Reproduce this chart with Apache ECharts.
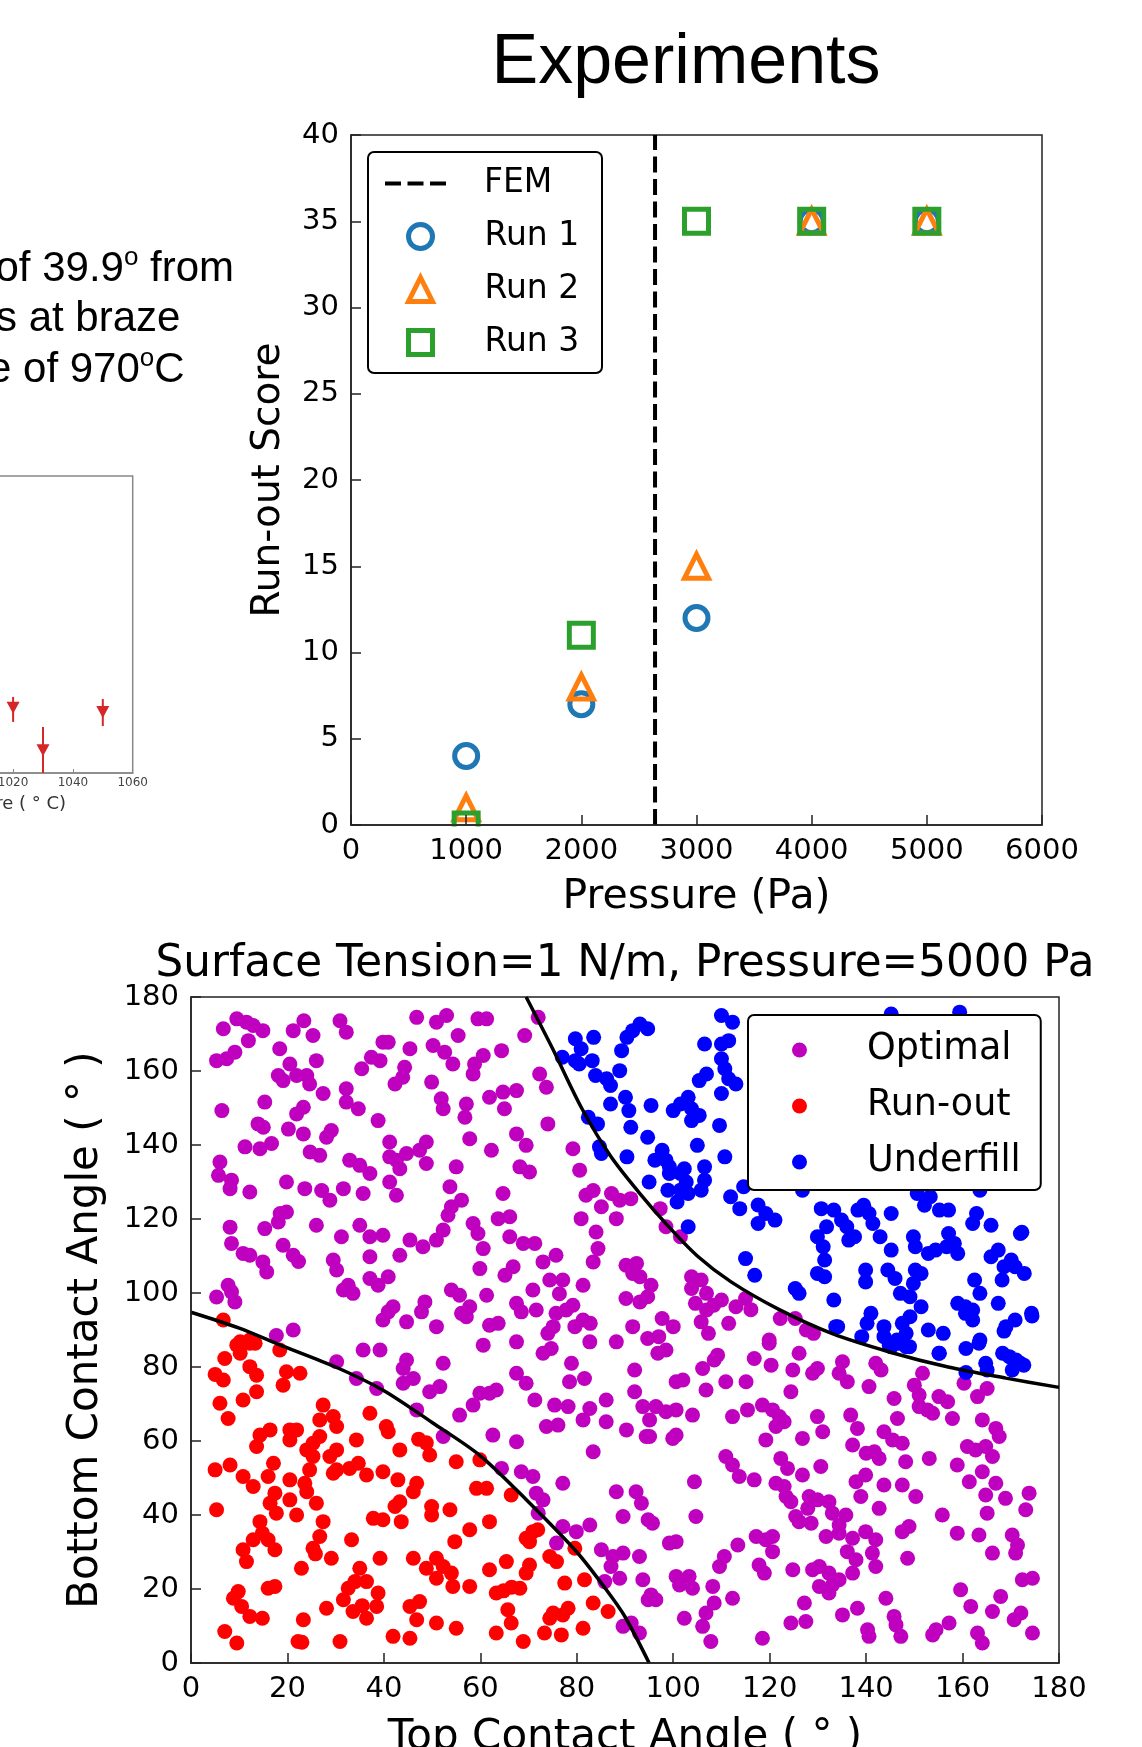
<!DOCTYPE html>
<html>
<head>
<meta charset="utf-8">
<script src="https://cdn.jsdelivr.net/npm/echarts@6/dist/echarts.min.js"></script>
<style>
html, body { margin: 0; padding: 0; background: #fff; }
#main { width: 1142px; height: 1747px; }
</style>
</head>
<body>
<div id="main"></div>
<script>
// experiments panel
var pressure = [1000, 2000, 3000, 4000, 5000];
var run1 = [4, 7, 12, 35, 35];
var run2 = [1, 8, 15, 35, 35];
var run3 = [0, 11, 35, 35, 35];
var femPressure = 2640;
var pressureTicks = [0, 6000, 1000];
var scoreTicks = [0, 40, 5];

// cropped temperature plot (left edge)
var tempX = [1020, 1030, 1050];
var tempY = [22, 7.7, 20.5];
var tempLo = [17.2, 0, 15.8];
var tempHi = [25.6, 15.5, 24.9];

// simulation panel: [top angle, bottom angle]
var runout = [[5,78],[7,82.3],[6.7,76.5],[9.5,85.9],[10.2,83.7],[12.2,86.4],[13.3,86.4],[12.2,80.1],[13.6,77.8],[13.6,73.3],[10.8,71.1],[6,70.2],[7.7,66.1],[18.4,84.6],[19.8,78.7],[19.1,75.1],[22.6,78.3],[6.7,92.7],[10.2,86.8],[12.2,87.3],
[27.4,69.7],[26.7,65.7],[29.5,66.6],[30.2,63.9],[37.1,67.5],[40.5,63.9],[40.9,62.5],[34.3,60.3],[26.7,61.2],[25.3,59.4],[24,57.6],[20.5,63],[21.9,63],[20.5,60.3],[14.3,61.6],[13.6,58.5],[16.4,63],[17.1,54],[16,50.4],[10.8,50.4],[12.9,47.7],[8.1,53.5],[5,52.2],[5.3,41.4],
[17.4,45.9],[16.4,43.2],[17.7,40.5],[20.5,44.1],[21.9,40],[20.5,49.5],[23.6,48.6],[24,46.3],[24.6,52.2],[25.3,55.8],[28.8,55.8],[30.2,57.6],[30.2,52.2],[29.5,51.3],[32.9,52.6],[34.7,54],[36.4,50.8],[39.8,51.7],[42.9,49.5],[47.2,60.5],[48.8,59.5],
[49.5,56.2],[43.3,57.6],[55,54.4],[59.9,54.9],[59.2,47.2],[61.3,47.2],[46.8,48.6],[46.1,46.3],[43.3,43.6],[42.3,42.3],[43.6,38.2],[37.8,39.1],[39.8,38.7],[26,43.2],[27.4,38.2],[26.7,34.2],[25.3,31],[25.8,29.5],[14.3,38.2],[14.8,35.1],[16,33.3],[17.4,30.6],[12.9,33.3],[10.8,30.6],[11.5,27.4],
[22.9,25.6],[29.1,28.3],[33.3,33.3],[39.2,28.3],[35,25.6],[49.9,42.3],[49.9,40],[53.7,41.4],[57.8,36],[54.7,32.8],[61.9,38.2],[66.4,45.4],[69.5,33.7],[70.9,35.5],[71.9,36],[70.2,32.8],[79.6,31],[74.4,28.8],[75.8,27.4],[70.2,26.5],[69.5,24.3],[68.2,20.2],[65.4,27.4],[61.9,25.2],
[77.5,21.6],[81.6,22.5],[83.4,16.2],[86.5,13.9],[81.3,9.4],[78.2,14.8],[77.1,13],[75.1,13.5],[74.4,12.1],[76.8,7.6],[73.3,8.1],[68.9,5.8],[66.4,10.8],[65.7,14.4],[63.3,18.9],[64.8,19.5],[66.5,20.5],[63.3,8.1],[57.8,20.7],[54.3,20.7],[54,24.3],[50.9,22.9],[52.3,26.1],[50.9,28.3],[48.8,25.6],[46.1,28.3],
[55,9.4],[50.9,10.8],[46.8,11.7],[45.4,15.3],[47.4,16.6],[45.4,6.7],[41.9,7.2],[36.4,12.1],[38.5,15.3],[38.8,18.9],[36.4,22],[34,22],[32.6,20.2],[31.6,17.1],[33.6,13.9],[35.5,15.5],[28.1,14.8],[30.9,5.8],[23.3,11.7],[22.2,5.8],[23,5.6],[16,20.2],[17.4,20.7],[9.8,19.3],[8.8,17.5],[10.5,15.3],[12.2,12.6],[14.8,12.1],[7,8.5],[9.5,5.4]];

var underfill = [[77,163.7],[79.7,168.7],[83.5,169.1],[80.9,166],[83.2,162.8],[79.7,162.8],[80.5,161.9],[83.9,158.8],[86.2,157.9],[87,156.1],[88.9,160.1],[89.3,165.5],[90.4,169.1],[93.1,172.7],[94.7,171.4],[91.6,170.9],
[82.4,147.5],[84.3,145.7],[84.7,139.5],[85.1,137.7],[87,151.1],[90.1,152.9],[90.8,149.3],[91.2,144.8],[90.4,136.8],[94.7,142.1],[95.4,150.7],[96.2,135.9],[97.7,138.6],[98.5,135.9],[99.2,132.3],[100,149.3],[101.5,151.1],[103.1,152.9],[103.8,149.8],[103.8,146.6],[105.4,148],[105,139.9],[106.5,130.5],[105.8,127.8],
[103.1,126.9],[100.8,124.6],[101.5,127.8],[98.9,127.8],[95,130],[99.2,134.1],[101.5,132.3],[102.7,130],[102.3,133.6],[103.1,117.9],[105.4,157.4],[106.9,159.2],[106.5,167.3],[110,167.3],[111.5,168.2],[110,175],[112.3,173.2],[110,163.3],[110.7,160.6],[111.5,157.9],[113,156.5],[110,153.9],[109.6,145.3],[110.7,136.8],
[106.5,134.1],[111.9,126],[113.8,122.8],[114.6,128.7],[117.6,123.8],[119.2,121.5],[117.6,118.8],[121.1,119.7],[115,109.3],[116.9,104.8],[125.3,101.2],[126.1,99.9],[129.9,115.2],[131.8,117.9],[133.3,122.4],[130.7,122.8],[134.9,119.7],[131.1,112.5],[131.4,108.9],[129.9,105.3],[131.4,104.4],[133.3,98.1],[134.1,90.9],
[138.3,122.4],[139.5,123.7],[140.6,121.5],[136,117.9],[136.4,114.3],[137.6,115.2],[139.9,106.2],[139.9,103],[141.4,118.8],[145.2,121.5],[142.9,115.2],[145.2,111.6],[144.5,106.2],[146,103.9],[147.1,99.9],[149.1,99],[151.4,96.3],[149.1,93.6],[147.5,91.8],[146.4,87.3],[148.3,89.1],[143.7,88.2],[139.1,88.2],[140.2,91.8],[141,94.5],[143.7,90.9],[145.2,85.5],[148.3,85.5],[133.7,90.9],
[149.8,115.2],[150.2,112.5],[152.1,123.7],[153.3,126],[155.2,122.4],[157.1,122.4],[157.1,116.1],[152.9,110.7],[154.4,111.6],[156.7,112.5],[158.3,113.4],[159,110.7],[151.4,105.3],[150.2,106.2],[149.8,102.6],[155.2,83.7],[152.9,90],[156,89.1],[159,97.2],[160.6,96.3],[163.6,99.9],[162.5,103.5],[162.1,95.4],[160.6,94.5],[162.1,92.7],[163.6,87.3],
[169,90.9],[170.9,92.7],[169.7,82.8],[172,81],[165.9,109.8],[167.4,111.6],[168.2,103.5],[168.6,107.1],[170.1,108.9],[172.8,105.3],[172,116.1],[167.4,97.2],[174.3,94.5],[165.1,79.2],[162.1,118.8],[165.9,118.3],[162.9,121.5],[145.2,175.4],[159.4,175.9],[126.8,127.8],[150.6,126.9],[163.6,127.8],
[144.8,85.9],[146.8,86.4],[149,85.5],[155.1,83.7],[160.7,85],[160.7,78.5],[163.4,86.4],[164.8,81],[168.3,83.7],[170.3,79.2],[172.7,80.5],[174.4,93.8],[172.3,116.4],[170.9,107.1],[168.6,89.7],[171.1,81.9]];

var optimal = [[6.7,171.4],[5.3,162.8],[7.4,163.3],[9.1,165.1],[9.5,174.1],[11.5,173.2],[12.9,172.3],[14.9,170.9],[11.9,168.2],[6.4,149.3],[6,135.4],[5.7,131.8],[8.4,130.5],[8.1,128.2],[12.2,127.3],[11.2,139.5],[13.9,145.7],[15,144.8],[15.3,151.6],[14.3,139],[16.7,140.4],
[18.4,166],[18.1,158.8],[19.1,157.4],[20.5,161.9],[21.2,170.9],[23.4,173.6],[25.3,169.6],[26,162.8],[21.9,158.8],[24,158.8],[24.6,156.5],[27.4,153.9],[20.2,144.3],[23.3,143],[21.9,148.4],[23.3,150.2],[24.7,138.1],[26.7,137.2],[28.1,142.1],[29.1,143.9],
[30.9,173.6],[32.2,170.5],[32.2,155.2],[32.2,151.6],[34.7,149.8],[32.9,135.9],[35,134.5],[37.1,132.3],[35.7,126.9],[31.6,128.2],[27.1,127.7],[28.8,125.1],[23.6,128.2],[19.8,130],[35.4,160.6],[37.4,163.7],[39.2,162.8],[39.8,167.8],[40.9,167.8],[45.4,166],[44.3,161],[43.9,158.3],[42.3,156.5],
[38.8,146.6],[41.2,140.8],[41.2,136.8],[42.6,135.9],[44.7,137.7],[43.3,133.6],[41.2,130],[42.6,126.4],[46.8,174.5],[50.9,173.2],[53,175],[55.4,169.6],[50.2,166.9],[52.6,165.1],[54.3,161.9],[49.9,157],[48.8,140.8],[48.8,135],[47.4,138.6],[51.9,152.5],[52.3,149.8],[57.1,151.1],[56.8,147.5],[57.8,141.7],
[55,134.1],[53.7,128.7],[56.1,125.1],[59.5,174.1],[61.3,174.1],[60.6,164.2],[58.8,161.9],[58.5,159.2],[61.9,152.9],[64.7,154.3],[67.5,154.7],[65,149.8],[64.4,165.5],[69.2,169.6],[72,174.5],[72.3,159.2],[73.7,155.6],[74,145.7],[67.5,143],[69.5,139.9],[62.3,138.6],[68.2,134.1],[70.2,132.7],[64.7,126.9],[63.7,120.1],[66.1,120.6],
[79.2,139],[80.6,133.2],[81.9,126.4],[83.4,127.7],[85.1,123.3],[87.2,126.9],[88.9,125.1],[88.2,120.1],[80.9,120.1],[84,116.5],[84.4,112],[83.4,108.4],[90.2,107.5],[90.2,98.5],[77.1,103.5],[81.3,102.1],[79.2,96.7],[77.8,95.4],[76.4,99.8],[75.7,94.5],[81.3,92.7],[82.8,91.8],[79.6,90.9],[75.1,90.9],[74,89.1],
[74.4,103.5],[75.7,110.2],[73,108.4],[71.3,113.4],[68.9,113.4],[66.1,115.2],[67.5,97.2],[68.5,94.9],[71.6,95.4],[70.9,100.8],[66.8,107.1],[65.1,104.8],[63.7,91.8],[61.9,91.3],[61.3,99.4],[59.9,106.6],[59.5,116.1],[58.5,118.8],[60.6,112],[57.1,93.6],[57.8,96.3],[56.1,94.5],[55.7,99.4],[54,100.8],
[50.9,90.9],[48.5,97.6],[47.8,94.9],[44.7,92.2],[40.9,104.4],[41.9,96.3],[40.9,94.9],[39.8,92.7],[37.1,103.9],[38.8,102.1],[37.1,109.8],[32.6,102.1],[33.6,99.9],[29.5,108.9],[30.2,106.2],[31.6,100.8],[26,118.3],[31.2,115.2],[35,118.3],[37.1,115.2],[39.8,115.6],[43.3,110.2],[45.4,114.3],[48.1,112.5],
[50.9,114.3],[52.3,117],[53.3,121],[54,123.3],[19.1,112.9],[21.2,110.2],[22.3,108.5],[15.3,117.4],[18.5,121.5],[19.8,121.9],[18.1,119.2],[8.1,117.8],[8.4,113.4],[10.8,110.7],[12.2,110.2],[14.9,108.4],[15.7,105.7],[7.7,102.1],[8.4,100.3],[5.3,98.9],[9.1,97.6],[17.7,88.5],[21.2,90],
[91.2,125.5],[97.3,122.8],[98.5,117.9],[101.5,115.2],[92.4,108],[91.6,105.3],[93.1,104.4],[95.4,102.1],[94.7,99],[93.1,97.6],[91.6,90.9],[97.7,93.1],[100,90.9],[97,88.2],[94.7,87.7],[103.8,104.4],[105.8,103.5],[103.8,101.2],[104.6,97.2],[106.9,95.4],[105.8,92.2],[107.3,89.1],[106.9,99.9],[108.4,96.7],
[110,98.1],[111.5,91.8],[113,96.3],[115,98.5],[116.1,95.5],[119.9,87.3],[122.2,93.1],[125.3,93.1],[127.6,90],[129.1,89.1],
[30.2,81.4],[34.3,76.9],[35.7,84.6],[39.2,84.6],[38.5,74.2],[44.7,81.9],[44,79.6],[46.1,76.9],[44,75.6],[46.8,68.4],[49.5,73.3],[51.6,74.7],[52.3,81],[52.3,61.2],[55.7,67],[58.5,69.7],[59.9,72.9],[61.9,72.9],[63.3,73.8],[62.6,61.6],[67.5,59.8],[60.6,85.9],[67.5,86.8],[67.5,78.3],[69.5,75.6],[71.3,71.1],
[73,83.7],[74.7,85],[73.7,63.9],[76.1,64.3],[75.4,69.7],[78.2,69.3],[78.9,81],[78.5,76],[81.6,76.9],[81.3,65.7],[82.7,68.8],[86.1,71.1],[86.1,65.2],[83.4,57.1],[82.7,86.8],[88.2,86.8],[92,79.2],[92,73.3],[90.3,63],[93.7,69.3],[94.4,61.2],[64.4,52.6],[68.5,51.7],[70.9,50.4],[71.6,45.9],[73,44.1],[72,40.5],
[77.1,48.6],[88.2,46.3],[92.3,46.3],[93.4,43.2],[89.6,39.6],[94.8,38.7],[77.1,36.9],[79.9,35.5],[82.7,37.3],[75.8,32.4],[85.1,30.6],[87.5,28.8],[89.6,29.7],[87.1,26.1],[88.9,22.9],[85.8,22],[93,28.8],[93.7,22.5],[89.6,9.9],[91.3,10.8],[93,8.1],[94.8,17.1],
[95.1,65.7],[95.1,61.2],[98.5,67.9],[96.4,69.3],[100.6,68.4],[104,67],[99.9,60.7],[100.6,61.6],[96.8,83.7],[98.5,84.6],[102,76.5],[106.1,79.6],[106.8,73.8],[109.2,83.2],[108.5,81.9],[110.9,76],[112.3,66.6],[115.1,76],[116.8,82.3],[119.9,86.4],[120.3,80.5],[124.8,79.2],[126.1,83.7],[128.9,78.3],[129.9,79.6],
[124.4,73.3],[115.4,68.4],[118.5,69.7],[120.6,68.4],[122,66.6],[123,65.2],[121.3,63.9],[119.2,60.3],[126.8,60.7],[129.9,66.6],[131,62.5],[135.1,81.4],[134.4,78.3],[136.1,76],[140.6,74.7],[142,81],[143.1,79.2],[136.8,67],[138.2,63.4],[137.2,58.9],[140,56.7],[141.7,57.1],[142.7,55.3],[143.7,62.5],
[145.5,60.3],[147.5,59.4],[145.8,71.5],[146.5,66.1],[148.2,54.4],[150,75.1],[151,72.4],[151,69.3],[152.7,68.4],[153.8,67.5],[155.1,72],[156.9,70.6],[157.9,66.1],[153.1,55.3],[151.7,78.3],[160.3,75.6],[163.1,72],[165.1,74.2],[164.1,65.7],[166.9,63.4],[167.6,61.2],[161,58.5],[162.7,57.6],[164.8,58.5],
[166.2,55.8],[158.9,53.5],[161.4,49],[164.1,51.7],[166.9,48.6],[164.8,45.4],[168.9,44.5],[165.1,40.5],[173.8,45.9],[173.1,41.4],[163.4,34.6],[170.3,34.6],[171.4,31.9],[171,29.7],[166.2,29.7],[155.8,40],[158.9,35.1],[147.5,35.5],[148.9,36.9],[148.6,28.3],[143.7,48.1],[147.5,48.1],[150.3,45],
[142.7,41.8],[138.9,45],[137.9,49],[139.9,50.8],[135.8,40],[139.9,35.5],[142,33.3],[141.3,29.7],[142,26.1],[137.9,27.9],[137.2,24.3],[136.1,30.1],[134.4,37.3],[133,40.5],[132.3,43.6],[129.9,44.1],[128.2,45],[127.9,41.8],[126.1,38.2],[125.4,39.6],[123.4,45],[123,47.7],[121.3,48.6],[122.3,55.3],
[123.7,52.6],[126.8,50.8],[130.6,53.1],[128.6,37.8],[131.7,34.2],[134.4,35.1],[137.2,33.7],[130.3,26.1],[128.9,25.2],[132.3,24.3],[133,21.1],[132.3,18.9],[134.4,22.5],[130.3,20.7],[127.2,16.2],[124.4,10.8],[127.5,11.2],[135.1,13],[138.2,14.8],[140.3,9],[140.6,7.2],[144.1,17.5],[145.8,12.6],
[147.2,7.2],[146.2,10.3],[153.8,7.6],[154.5,9],[157.2,10.8],[163.1,8.1],[164.1,5.4],[159.6,19.8],[161.7,15.3],[166.2,13.9],[167.9,18],[170.7,11.7],[172.1,13.5],[174.5,8.1],[172.4,22.5],[174.5,22.9],[124.8,25.2],[118.5,6.7],[120.6,30.1],[119.2,33.3],[117.2,34.2],[117.8,26.5],[118.9,24.3],
[113.4,31.9],[110.6,28.8],[109.6,26.1],[108.2,20.7],[108.5,16.2],[106.8,13.5],[106.1,9.9],[107.8,5.8],[112.3,17.5],[104,20.2],[103.3,23.4],[100.6,23.4],[101.3,21.1],[102.3,12.1],[99.2,32.4],[100.6,32.8],[104.7,39.6],[104.4,49],[95.7,37.8],[96.4,17.1],[95.4,18.4],[110.9,55.8],[112.3,53.5],
[113.7,50.4],[116.8,49.5],[124.4,43.6],[120.6,34.2],[100.6,76]];

// decision boundaries
var upperBoundary = [[69.5,180],[75,166],[81,150],[87,137],[93,127],[99,118],[105,110],[112,103],[122,95.5],[133,89],[145,84],[157,80],[169,77],[180,74.5]];
var lowerBoundary = [[0,94.8],[10,90.5],[18,86.2],[30,80],[40,73.6],[50,65],[60,56],[70,43.5],[80,30],[86,20],[90,12.5],[95,0]];
var angleTicks = [0, 180, 20];

var dv = 'DejaVu Sans';
var lib = 'Liberation Sans';

function pairs(xs, ys) {
	return xs.map(function(x, i) { return [x, ys[i]]; });
}
function plain(v) { return String(v); }

var chart = echarts.init(document.getElementById('main'));

var supRich = {
	a: { fontFamily: lib, fontSize: 42, lineHeight: 48, fill: '#000', color: '#000' },
	b: { fontFamily: lib, fontSize: 26, lineHeight: 31, verticalAlign: 'top', fill: '#000', color: '#000' }
};

var option = {
	animation: false,
	backgroundColor: '#fff',
	grid: [
		{ left: 351, top: 135, width: 691, height: 690, show: true, borderColor: '#222', borderWidth: 1.5, outerBoundsMode: 'none', containLabel: false },
		{ left: 191, top: 997, width: 868, height: 666, show: true, borderColor: '#222', borderWidth: 1.5, outerBoundsMode: 'none', containLabel: false },
		{ left: -46.7, top: 476, width: 179.4, height: 297, show: true, borderColor: '#888', borderWidth: 1.5, outerBoundsMode: 'none', containLabel: false }
	],
	xAxis: [
		{
			gridIndex: 0, type: 'value', min: pressureTicks[0], max: pressureTicks[1], interval: pressureTicks[2], z: 20,
			axisLine: { lineStyle: { color: '#222', width: 1.5 } },
			axisTick: { inside: true, length: 10, lineStyle: { color: '#222', width: 1.5 } },
			axisLabel: { margin: 12, fontFamily: dv, fontSize: 29, color: '#000', formatter: plain },
			splitLine: { show: false },
			name: 'Pressure (Pa)', nameLocation: 'middle', nameGap: 52,
			nameTextStyle: { fontFamily: dv, fontSize: 41, color: '#000' }
		},
		{
			gridIndex: 1, type: 'value', min: angleTicks[0], max: angleTicks[1], interval: angleTicks[2], z: 20,
			axisLine: { lineStyle: { color: '#222', width: 1.5 } },
			axisTick: { inside: true, length: 10, lineStyle: { color: '#222', width: 1.5 } },
			axisLabel: { margin: 12, fontFamily: dv, fontSize: 29, color: '#000', formatter: plain },
			splitLine: { show: false },
			name: 'Top Contact Angle ( ° )', nameLocation: 'middle', nameGap: 54,
			nameTextStyle: { fontFamily: dv, fontSize: 42, color: '#000' }
		},
		{
			gridIndex: 2, type: 'value', min: 1000, max: 1060, interval: 20,
			axisLine: { lineStyle: { color: '#888', width: 1.5 } },
			axisTick: { inside: true, length: 4, lineStyle: { color: '#888', width: 1 } },
			axisLabel: { margin: 4, fontFamily: dv, fontSize: 12, color: '#444', formatter: plain },
			splitLine: { show: false }
		}
	],
	yAxis: [
		{
			gridIndex: 0, type: 'value', min: scoreTicks[0], max: scoreTicks[1], interval: scoreTicks[2], z: 20,
			axisLine: { show: true, lineStyle: { color: '#222', width: 1.5 } },
			axisTick: { show: true, inside: true, length: 10, lineStyle: { color: '#222', width: 1.5 } },
			axisLabel: { margin: 12, fontFamily: dv, fontSize: 29, color: '#000', formatter: plain },
			splitLine: { show: false },
			name: 'Run-out Score', nameLocation: 'middle', nameGap: 63,
			nameTextStyle: { fontFamily: dv, fontSize: 39, color: '#000' }
		},
		{
			gridIndex: 1, type: 'value', min: angleTicks[0], max: angleTicks[1], interval: angleTicks[2], z: 20,
			axisLine: { show: true, lineStyle: { color: '#222', width: 1.5 } },
			axisTick: { show: true, inside: true, length: 10, lineStyle: { color: '#222', width: 1.5 } },
			axisLabel: { margin: 12, fontFamily: dv, fontSize: 29, color: '#000', formatter: plain },
			splitLine: { show: false },
			name: 'Bottom Contact Angle ( ° )', nameLocation: 'middle', nameGap: 84,
			nameTextStyle: { fontFamily: dv, fontSize: 42, color: '#000' }
		},
		{ gridIndex: 2, type: 'value', min: 0, max: 100, show: false }
	],
	legend: [
		{
			orient: 'vertical', left: 383, top: 163.5, selectedMode: false, padding: 0, z: 5,
			data: [{ name: 'FEM', itemStyle: { opacity: 0, color: 'rgba(0,0,0,0)', borderWidth: 0 } }],
			itemWidth: 64, itemHeight: 24,
			lineStyle: { width: 4, type: [16, 6.5], color: '#000' },
			textStyle: { fontFamily: dv, fontSize: 33, lineHeight: 40, color: '#000', padding: [0, 0, 0, 30] }
		},
		{
			orient: 'vertical', left: 406, top: 216.5, selectedMode: false, padding: 0, z: 5,
			data: ['Run 1', 'Run 2', 'Run 3'],
			itemWidth: 24, itemHeight: 24, itemGap: 13,
			itemStyle: { borderWidth: 5 },
			textStyle: { fontFamily: dv, fontSize: 33, lineHeight: 40, color: '#000', padding: [0, 0, 0, 47] }
		},
		{
			orient: 'vertical', left: 748, top: 1015, selectedMode: false,
			data: ['Optimal', 'Run-out', 'Underfill'],
			itemWidth: 15, itemHeight: 15, itemGap: 14,
			padding: [14, 20, 7, 44],
			backgroundColor: '#fff', borderColor: '#000', borderWidth: 2, borderRadius: 6,
			textStyle: { fontFamily: dv, fontSize: 36.5, lineHeight: 42, color: '#000', padding: [0, 0, 0, 55] }
		}
	],
	graphic: [
		{ type: 'rect', z: 3, shape: { x: 368, y: 152, width: 234, height: 221, r: 6 }, style: { fill: '#fff', stroke: '#000', lineWidth: 2 } },
		{ type: 'text', x: 686, y: 64, style: { text: 'Experiments', fontFamily: lib, fontSize: 70, fill: '#000', align: 'center', verticalAlign: 'middle', textAlign: 'center', textVerticalAlign: 'middle' } },
		{ type: 'text', x: -4.5, y: 269, style: { text: '{a|of 39.9}{b|o}{a| from}', verticalAlign: 'middle', textVerticalAlign: 'middle', rich: supRich } },
		{ type: 'text', x: -4, y: 319, style: { text: 's at braze', fontFamily: lib, fontSize: 42, fill: '#000', verticalAlign: 'middle', textVerticalAlign: 'middle' } },
		{ type: 'text', x: -12, y: 370, style: { text: '{a|e of 970}{b|o}{a|C}', verticalAlign: 'middle', textVerticalAlign: 'middle', rich: supRich } },
		{ type: 'text', x: 66, y: 804, style: { text: 'Temperature ( ° C)', fontFamily: dv, fontSize: 18, fill: '#333', align: 'right', textAlign: 'right', verticalAlign: 'middle', textVerticalAlign: 'middle' } },
		{ type: 'text', x: 625, y: 965, style: { text: 'Surface Tension=1 N/m, Pressure=5000 Pa', fontFamily: dv, fontSize: 43.7, fill: '#000', align: 'center', textAlign: 'center', verticalAlign: 'middle', textVerticalAlign: 'middle' } },
		// masks the part of the marker that matplotlib clips below the axis
		{ type: 'rect', z: 10, shape: { x: 446, y: 826.5, width: 42, height: 15 }, style: { fill: '#fff' } }
	],
	series: [
		{
			name: 'FEM', type: 'line', xAxisIndex: 0, yAxisIndex: 0, symbol: 'none', z: 2,
			data: [[femPressure, scoreTicks[0]], [femPressure, scoreTicks[1]]],
			lineStyle: { color: '#000', width: 4, type: [16, 6.5] }, itemStyle: { color: '#000' }
		},
		{
			name: 'Run 1', type: 'scatter', xAxisIndex: 0, yAxisIndex: 0, symbol: 'circle', symbolSize: 23,
			data: pairs(pressure, run1),
			itemStyle: { color: 'rgba(0,0,0,0)', borderColor: '#1f77b4', borderWidth: 5, opacity: 1 }
		},
		{
			name: 'Run 2', type: 'scatter', xAxisIndex: 0, yAxisIndex: 0, symbol: 'triangle', symbolSize: 24,
			data: pairs(pressure, run2),
			itemStyle: { color: 'rgba(0,0,0,0)', borderColor: '#ff7f0e', borderWidth: 5, opacity: 1 }
		},
		{
			name: 'Run 3', type: 'scatter', xAxisIndex: 0, yAxisIndex: 0, symbol: 'rect', symbolSize: 24,
			data: pairs(pressure, run3),
			itemStyle: { color: 'rgba(0,0,0,0)', borderColor: '#2ca02c', borderWidth: 5, opacity: 1 }
		},
		{
			name: 'Optimal', type: 'scatter', xAxisIndex: 1, yAxisIndex: 1, symbolSize: 15,
			data: optimal, itemStyle: { color: '#bf00bf', opacity: 1 }
		},
		{
			name: 'Run-out', type: 'scatter', xAxisIndex: 1, yAxisIndex: 1, symbolSize: 15,
			data: runout, itemStyle: { color: '#ff0000', opacity: 1 }
		},
		{
			name: 'Underfill', type: 'scatter', xAxisIndex: 1, yAxisIndex: 1, symbolSize: 15,
			data: underfill, itemStyle: { color: '#0000ff', opacity: 1 }
		},
		{
			name: 'upper', type: 'line', xAxisIndex: 1, yAxisIndex: 1, symbol: 'none', smooth: 0.3, silent: true, z: 3,
			data: upperBoundary, lineStyle: { color: '#000', width: 3.5 }
		},
		{
			name: 'lower', type: 'line', xAxisIndex: 1, yAxisIndex: 1, symbol: 'none', smooth: 0.3, silent: true, z: 3,
			data: lowerBoundary, lineStyle: { color: '#000', width: 3.5 }
		},
		{
			name: 'errbar', type: 'custom', xAxisIndex: 2, yAxisIndex: 2, silent: true,
			data: tempX.map(function(x, i) { return [x, tempLo[i], tempHi[i]]; }),
			renderItem: function(params, api) {
				var a = api.coord([api.value(0), api.value(1)]);
				var b = api.coord([api.value(0), api.value(2)]);
				return { type: 'line', shape: { x1: a[0], y1: a[1], x2: b[0], y2: b[1] }, style: { stroke: '#d62728', lineWidth: 2 } };
			}
		},
		{
			name: 'temp', type: 'scatter', xAxisIndex: 2, yAxisIndex: 2, symbol: 'triangle', symbolRotate: 180, symbolSize: [13, 12],
			data: pairs(tempX, tempY), itemStyle: { color: '#d62728', opacity: 1 }
		}
	]
};

chart.setOption(option);
</script>
</body>
</html>
